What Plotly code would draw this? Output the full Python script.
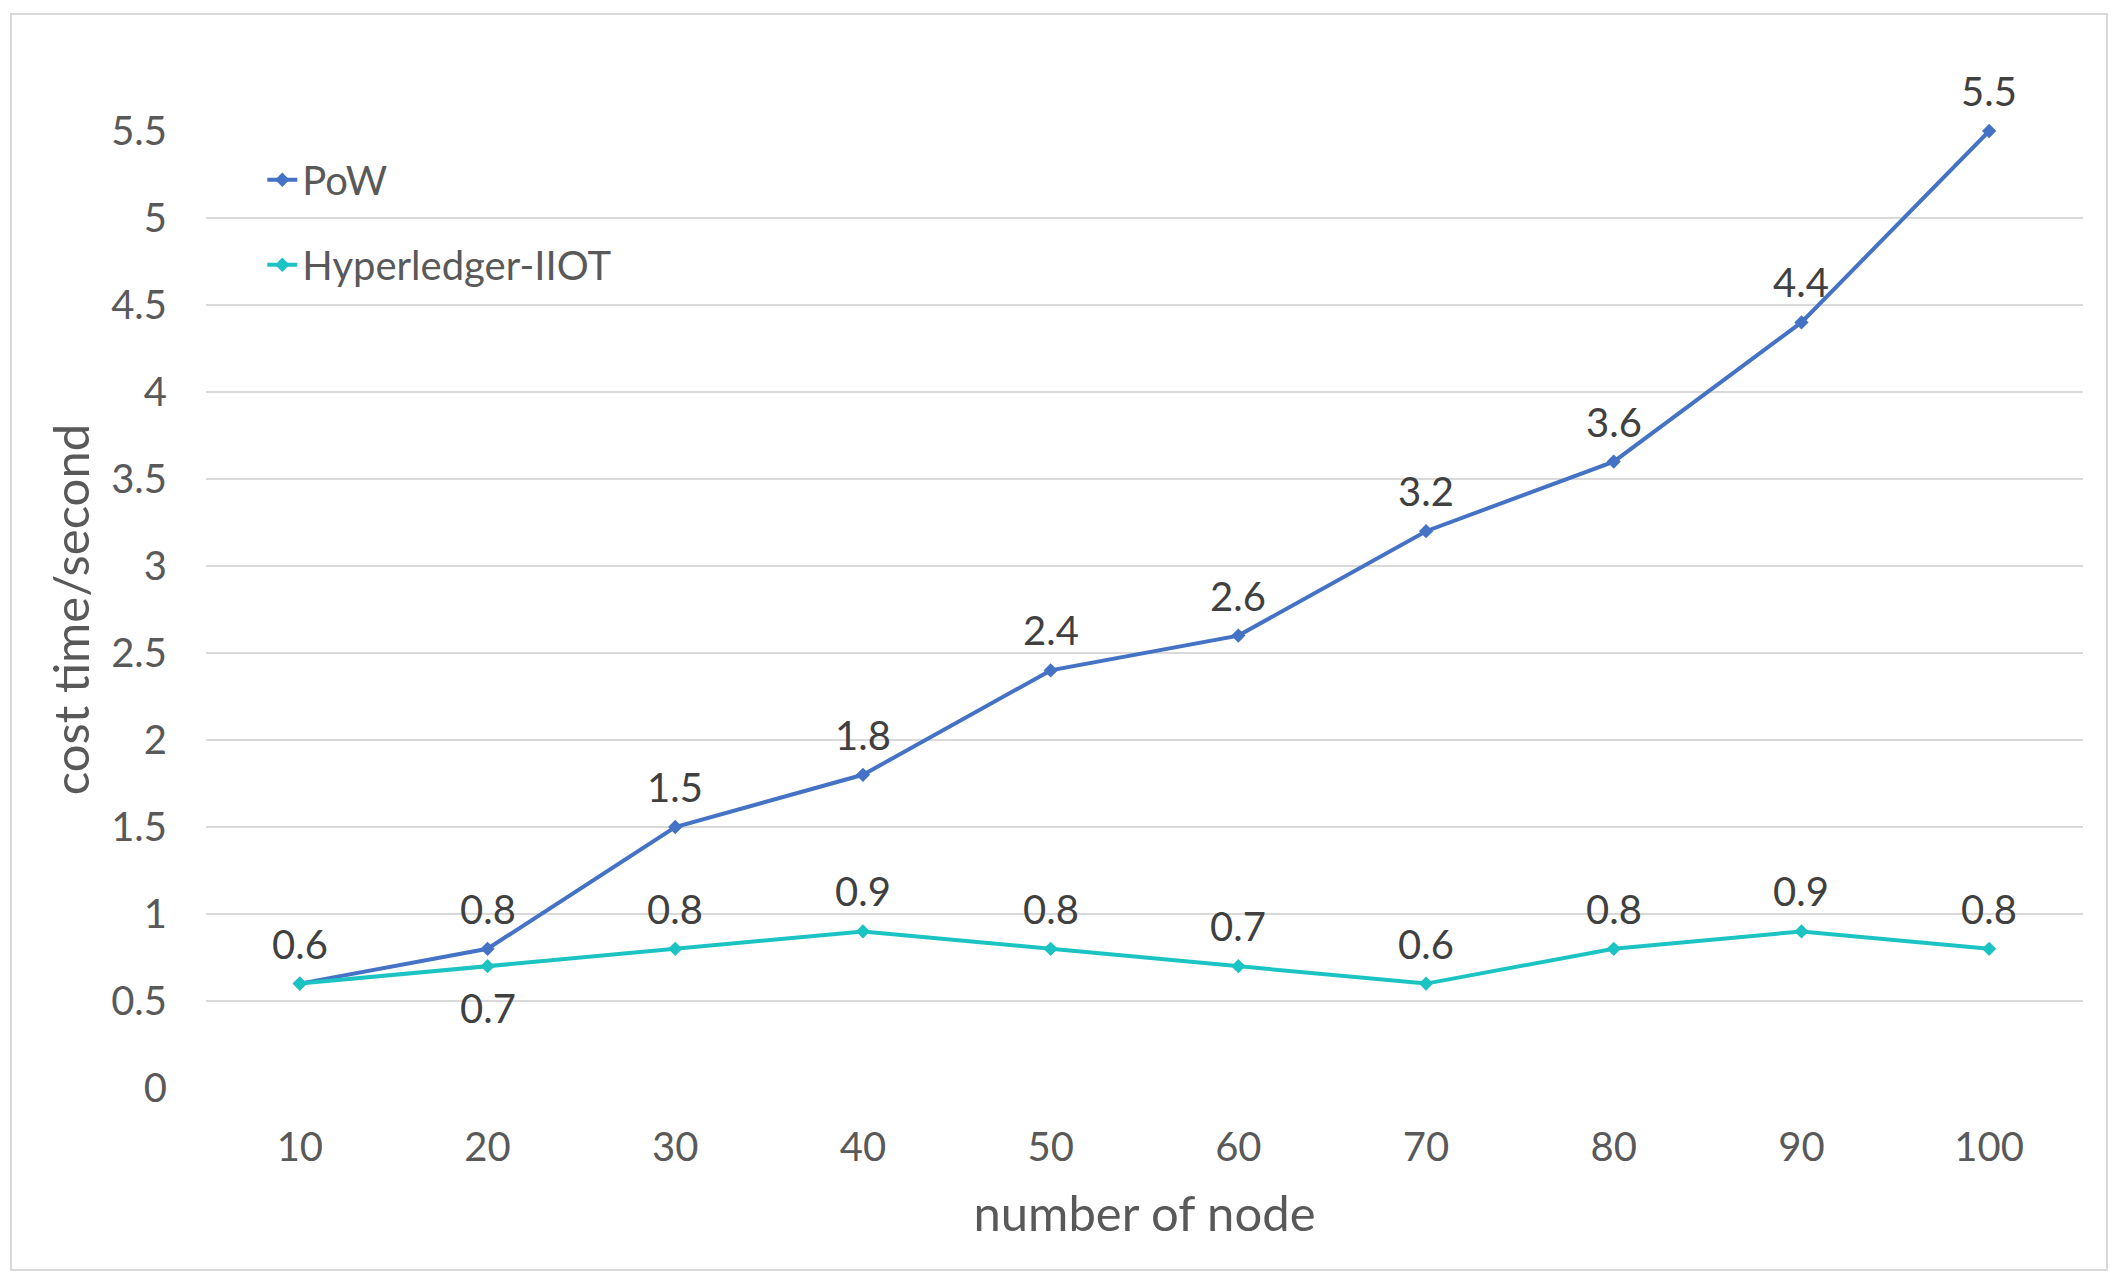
import plotly.graph_objects as go

nodes = [10, 20, 30, 40, 50, 60, 70, 80, 90, 100]
pow_cost = [0.6, 0.8, 1.5, 1.8, 2.4, 2.6, 3.2, 3.6, 4.4, 5.5]
hyper_cost = [0.6, 0.7, 0.8, 0.9, 0.8, 0.7, 0.6, 0.8, 0.9, 0.8]
# label at 10 coincides with the PoW label (same value), so it is drawn once
hyper_label_pos = ["none", "below", "above", "above", "above", "above", "above", "above", "above", "above"]
y_ticks = [0, 0.5, 1, 1.5, 2, 2.5, 3, 3.5, 4, 4.5, 5, 5.5]
y_tick_text = ["0", "0.5", "1", "1.5", "2", "2.5", "3", "3.5", "4", "4.5", "5", "5.5"]

FONT = "Lato"
GREY = "#595959"
BLUE = "#4472C4"
CYAN = "#1CC3C3"
TICK_SIZE = 40
TITLE_SIZE = 49

PLOT_W = 1877
PLOT_H = 957

fig = go.Figure()
fig.add_trace(go.Scatter(
    x=nodes, y=pow_cost, name="PoW", mode="lines+markers",
    line=dict(color=BLUE, width=4), marker=dict(symbol="diamond", size=11, color=BLUE),
    legendgroup="a", cliponaxis=False,
))
fig.add_trace(go.Scatter(
    x=nodes, y=hyper_cost, name="Hyperledger-IIOT", mode="lines+markers",
    line=dict(color=CYAN, width=4), marker=dict(symbol="diamond", size=11, color=CYAN),
    legendgroup="b", cliponaxis=False,
))

annotations = []
for xv, yv in zip(nodes, pow_cost):
    annotations.append(dict(x=xv, y=yv, text=f"{yv:g}", showarrow=False, yshift=40,
                            font=dict(family=FONT, size=TICK_SIZE, color="#404040")))
for xv, yv, pos in zip(nodes, hyper_cost, hyper_label_pos):
    if pos == "none":
        continue
    annotations.append(dict(x=xv, y=yv, text=f"{yv:g}", showarrow=False,
                            yshift=40 if pos == "above" else -42,
                            font=dict(family=FONT, size=TICK_SIZE, color="#404040")))

fig.update_layout(
    width=2112, height=1276,
    margin=dict(l=198, r=37, t=123, b=196, autoexpand=False),
    paper_bgcolor="white", plot_bgcolor="white",
    font=dict(family=FONT, size=TICK_SIZE, color=GREY),
    annotations=annotations,
    showlegend=True,
    legend=dict(x=0.030, y=0.983, xanchor="left", yanchor="top",
                bgcolor="rgba(0,0,0,0)", tracegroupgap=30,
                font=dict(family=FONT, size=TICK_SIZE, color=GREY)),
    shapes=[dict(type="rect", xref="paper", yref="paper",
                 x0=(3 - 198) / PLOT_W, x1=(2099 - 198) / PLOT_W,
                 y0=(1080 - 1262) / PLOT_H, y1=(1080 - 6) / PLOT_H,
                 line=dict(color="#D9D9D9", width=2), layer="below")],
)
fig.update_xaxes(
    range=[5, 105], tickvals=nodes, ticktext=[str(n) for n in nodes],
    showgrid=False, zeroline=False, showline=False,
    ticks="", ticklabelstandoff=32,
    tickfont=dict(family=FONT, size=TICK_SIZE, color=GREY),
    title=dict(text="number of node", standoff=27,
               font=dict(family=FONT, size=TITLE_SIZE, color=GREY)),
)
fig.update_yaxes(
    range=[0, 5.5], tickvals=y_ticks, ticktext=y_tick_text,
    showgrid=True, gridcolor="#D9D9D9", gridwidth=2,
    zeroline=False, showline=False,
    ticks="", ticklabelstandoff=38,
    tickfont=dict(family=FONT, size=TICK_SIZE, color=GREY),
    title=dict(text="cost time/second", standoff=6,
               font=dict(family=FONT, size=TITLE_SIZE, color=GREY)),
)
fig.write_html("out.html")
